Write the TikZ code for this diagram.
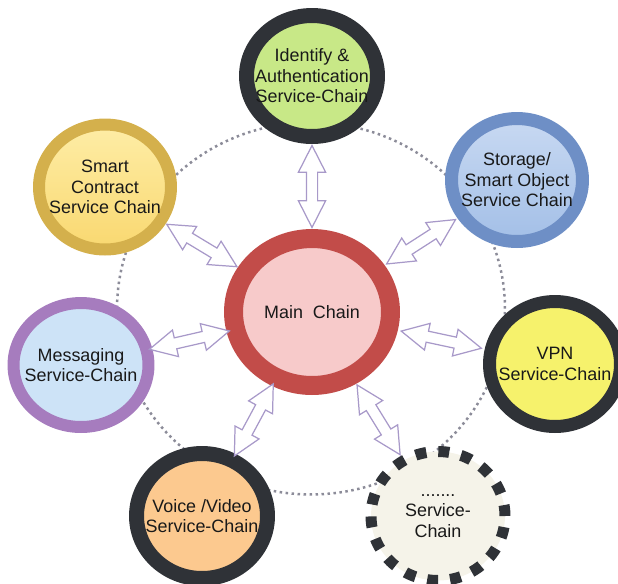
\documentclass[tikz,border=0pt]{standalone}
\usepackage{fontspec}
\setmainfont{Liberation Sans}
\usetikzlibrary{shapes.geometric,shapes.arrows}

\definecolor{mainring}{HTML}{C24C49}
\definecolor{mainfill}{HTML}{F7CACA}
\definecolor{darkring}{HTML}{2F3237}
\definecolor{idfill}{HTML}{C8E887}
\definecolor{storering}{HTML}{6E8FC6}
\definecolor{storetop}{HTML}{C8D9F2}
\definecolor{storebot}{HTML}{A3BFE7}
\definecolor{vpnfill}{HTML}{F6F26C}
\definecolor{morefill}{HTML}{F5F3E9}
\definecolor{voicefill}{HTML}{FCC98F}
\definecolor{msgring}{HTML}{A67CBE}
\definecolor{msgfill}{HTML}{CDE3F7}
\definecolor{contractring}{HTML}{D4B04C}
\definecolor{contracttop}{HTML}{FEEDA6}
\definecolor{contractbot}{HTML}{F9D870}
\definecolor{arrowline}{HTML}{A899C9}
\definecolor{ringpath}{HTML}{8C8C99}

\newcommand{\chainfont}{\fontsize{10.2}{11.7}\selectfont}

\tikzset{
  chainnode/.style={ellipse, inner sep=0pt, minimum width=2.62cm, minimum height=2.46cm},
  chaintext/.style={align=center, inner sep=0pt, font=\chainfont, text=black!90},
  dblarrow/.style={double arrow, draw=arrowline, fill=white, line width=0.7pt, sloped,
    inner sep=0.1cm, minimum height=1.64cm,
    double arrow head extend=0.16cm, double arrow tip angle=54},
}

\begin{document}
\begin{tikzpicture}[x=0.02cm, y=-0.02cm]
    \useasboundingbox (0,0) rectangle (618,583);

    % dotted ring through the service chains
    \draw[ringpath, line width=0.05cm, dash pattern=on 0.05cm off 0.07cm]
        (311,308.5) ellipse [x radius=3.88cm, y radius=3.72cm];

    \begin{scope}[every node/.style={chainnode}]
        \node[draw=mainring, fill=mainfill, line width=0.38cm,
              minimum width=3.14cm, minimum height=2.94cm,
              label={[chaintext]center:Main~~Chain}] (main) at (312,312) {};

        \node[draw=darkring, fill=idfill, line width=0.30cm, minimum height=2.42cm,
              label={[chaintext]center:Identify \&\\Authentication\\Service-Chain}] (ident) at (312,76) {};
        \node[draw=storering, top color=storetop, bottom color=storebot, line width=0.26cm,
              label={[chaintext]center:Storage/\\Smart Object\\Service Chain}] (store) at (517,180) {};
        \node[draw=darkring, fill=vpnfill, line width=0.26cm, minimum height=2.5cm,
              label={[chaintext]center:VPN\\Service-Chain}] (vpn) at (555,364) {};
        \node[draw=darkring, fill=morefill, line width=0.22cm, dash pattern=on 0.22cm off 0.24cm,
              minimum width=2.68cm, minimum height=2.58cm,
              label={[chaintext]center:.......\\Service-\\Chain}] (more) at (438,516) {};
        \node[draw=darkring, fill=voicefill, line width=0.30cm, minimum height=2.5cm,
              label={[chaintext]center:Voice /Video\\Service-Chain}] (voice) at (202,516) {};
        \node[draw=msgring, fill=msgfill, line width=0.24cm,
              minimum width=2.7cm, minimum height=2.48cm,
              label={[chaintext]center:Messaging\\Service-Chain}] (msg) at (81,365) {};
        \node[draw=contractring, top color=contracttop, bottom color=contractbot, line width=0.24cm,
              minimum width=2.64cm, minimum height=2.5cm,
              label={[chaintext]center:Smart\\Contract\\Service Chain}] (contract) at (105,187) {};
    \end{scope}

    \begin{scope}
        \path (main) -- node[dblarrow] {} (ident);
        \path (main) -- node[dblarrow] {} (store);
        \path (main) -- node[dblarrow] {} (vpn);
        \path (main) -- node[dblarrow] {} (more);
        \path (main) -- node[dblarrow] {} (voice);
        \path (main) -- node[dblarrow] {} (msg);
        \path (main) -- node[dblarrow] {} (contract);
    \end{scope}
\end{tikzpicture}
\end{document}
